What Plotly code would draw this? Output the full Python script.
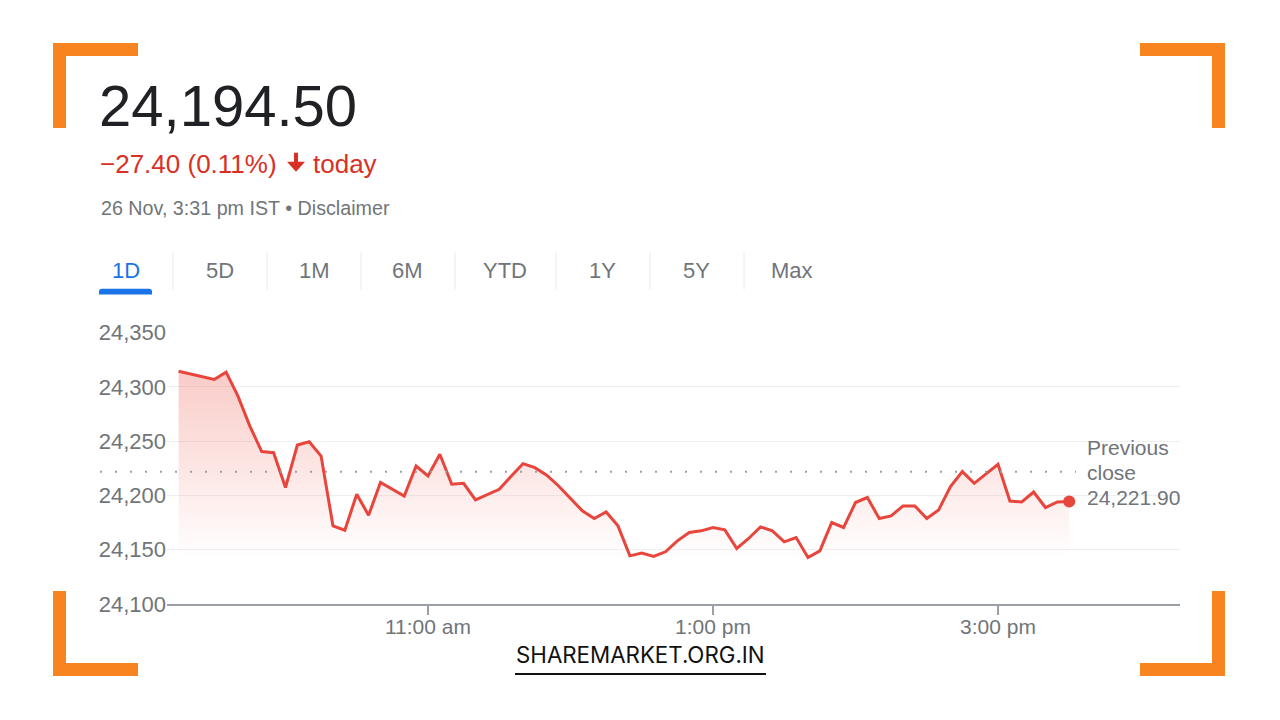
import plotly.graph_objects as go

# ---------------- data ----------------
day = "2024-11-26"
times = ["09:15", "09:30", "09:35", "09:40", "09:45", "09:50", "09:55",
         "10:00", "10:05", "10:10", "10:15", "10:20", "10:25", "10:30", "10:35", "10:40",
         "10:50", "10:55",
         "11:00", "11:05", "11:10", "11:15", "11:20", "11:25", "11:30", "11:35", "11:40", "11:45", "11:50", "11:55",
         "12:00", "12:05", "12:10", "12:15", "12:20", "12:25", "12:30", "12:35", "12:40", "12:45", "12:50", "12:55",
         "13:00", "13:05", "13:10", "13:15", "13:20", "13:25", "13:30", "13:35", "13:40", "13:45", "13:50", "13:55",
         "14:00", "14:05", "14:10", "14:15", "14:20", "14:25", "14:30", "14:35", "14:40", "14:45", "14:50", "14:55",
         "15:00", "15:05", "15:10", "15:15", "15:20", "15:25", "15:30"]
prices = [24314.4, 24306.8, 24313.5, 24291.5, 24263.9, 24240.4, 24239.4,
          24207.3, 24246.4, 24249.5, 24236.3, 24172.0, 24168.0, 24201.1, 24181.8, 24211.9,
          24199.5, 24227.1,
          24217.9, 24237.9, 24210.3, 24211.2, 24195.9, 24201.1, 24205.7, 24217.6, 24229.3, 24225.6, 24218.6, 24208.7,
          24197.1, 24185.8, 24178.8, 24184.8, 24172.0, 24144.4, 24146.9, 24143.8, 24148.1, 24158.2, 24165.9, 24167.4,
          24170.5, 24168.3, 24151.2, 24160.4, 24171.1, 24167.4, 24157.3, 24161.3, 24142.9, 24149.0, 24175.1, 24170.5,
          24193.5, 24198.1, 24178.8, 24181.2, 24190.4, 24190.4, 24178.8, 24186.7, 24208.2, 24222.0, 24211.2, 24220.0,
          24228.7, 24194.9, 24194.0, 24203.2, 24188.9, 24194.0, 24194.5]
previous_close = 24221.90
y_ticks = [24100, 24150, 24200, 24250, 24300, 24350]
x_tick_times = ["11:00", "13:00", "15:00"]
x_tick_labels = ["11:00 am", "1:00 pm", "3:00 pm"]
tabs = ["1D", "5D", "1M", "6M", "YTD", "1Y", "5Y", "Max"]
headline_price = "24,194.50"
change_value = "\u221227.40 (0.11%)"
change_word = "today"
date_text = "26 Nov, 3:31 pm IST \u2022 Disclaimer"
watermark = "SHAREMARKET.ORG.IN"

# ---------------- styling ----------------
W, H = 1280, 720
K = 0.967  # vertical compensation for the viewer
RED = "#e8453c"
TXT_RED = "#d93025"
GRAY = "#70757a"
ORANGE = "#f7841e"
FONT = "Liberation Sans, Arial, sans-serif"

def px(x):
    return x / W

def py(y):
    return 1 - (H / 2 + (y - H / 2) / K) / H

xs = [f"{day} {t}" for t in times]

fig = go.Figure()
fig.add_trace(go.Scatter(
    x=xs, y=prices, mode="lines",
    line=dict(color=RED, width=3),
    fill="tozeroy",
    fillgradient=dict(type="vertical", start=24150, stop=24320,
                      colorscale=[[0, "rgba(234,67,53,0.0)"], [1, "rgba(234,67,53,0.28)"]]),
    hoverinfo="skip", showlegend=False,
))
fig.add_trace(go.Scatter(
    x=[xs[-1]], y=[prices[-1]], mode="markers",
    marker=dict(color=RED, size=12),
    hoverinfo="skip", showlegend=False,
))

shapes = []
# previous close dotted line
shapes.append(dict(type="line", xref="paper", yref="y",
                   x0=px(100), x1=px(1076), y0=previous_close, y1=previous_close,
                   line=dict(color="#9aa0a6", width=2, dash="2px,13px")))

# orange corner brackets
def rect(x0, y0, x1, y1):
    return dict(type="rect", xref="paper", yref="paper",
                x0=px(x0), x1=px(x1), y0=py(y1), y1=py(y0),
                fillcolor=ORANGE, line=dict(width=0), layer="above")

shapes += [
    rect(53, 43, 138, 56), rect(53, 43, 66, 128),
    rect(1140, 43, 1225, 56), rect(1212, 43, 1225, 128),
    rect(53, 664, 138, 677), rect(53, 592, 66, 677),
    rect(1140, 664, 1225, 677), rect(1212, 592, 1225, 677),
]

# down arrow icon
arrow = (f"M {px(294)},{py(153)} L {px(298)},{py(153)} L {px(298)},{py(162)} L {px(305)},{py(162)} "
         f"L {px(296)},{py(172)} L {px(287)},{py(162)} L {px(294)},{py(162)} Z")
shapes.append(dict(type="path", xref="paper", yref="paper", path=arrow,
                   fillcolor=TXT_RED, line=dict(width=0)))

# tab separators
for sx in [173, 267, 361, 455, 556, 650, 744]:
    shapes.append(dict(type="line", xref="paper", yref="paper",
                       x0=px(sx), x1=px(sx), y0=py(253), y1=py(290),
                       line=dict(color="#e8eaed", width=1)))

# blue underline under 1D (rounded top)
path = (f"M {px(99)},{py(295)} L {px(99)},{py(292)} Q {px(99)},{py(289)} {px(102)},{py(289)} "
        f"L {px(149)},{py(289)} Q {px(152)},{py(289)} {px(152)},{py(292)} L {px(152)},{py(295)} Z")
shapes.append(dict(type="path", xref="paper", yref="paper", path=path,
                   fillcolor="#1a73e8", line=dict(width=0)))

# watermark underline
shapes.append(dict(type="line", xref="paper", yref="paper",
                   x0=px(515), x1=px(766), y0=py(675), y1=py(675),
                   line=dict(color="#111111", width=2)))

annotations = []

def label(text, x, y, size, color, family=FONT, xanchor="left"):
    annotations.append(dict(text=text, x=px(x), y=py(y), xref="paper", yref="paper",
                            xanchor=xanchor, yanchor="middle", showarrow=False,
                            font=dict(size=size, color=color, family=family)))

label(headline_price, 97, 106, 58, "#202124")
label(change_value, 98, 164, 26, TXT_RED)
label(change_word, 311, 164, 26, TXT_RED)
label(date_text, 99, 208, 19.7, GRAY)

tab_centers = [126, 220, 314, 407, 505, 602, 696, 792]
for t, cx in zip(tabs, tab_centers):
    label(t, cx, 271, 22, "#1a73e8" if t == "1D" else GRAY, xanchor="center")

label("Previous", 1085, 448, 21, GRAY)
label("close", 1085, 473, 21, GRAY)
label(f"{previous_close:,.2f}", 1085, 498, 21, GRAY)

label(watermark, 640, 656, 22.3, "#111111", family="Inter, sans-serif", xanchor="center")

fig.update_layout(
    width=W, height=H, autosize=False,
    margin=dict(l=0, r=0, t=0, b=0, pad=0),
    paper_bgcolor="white", plot_bgcolor="white",
    shapes=shapes, annotations=annotations,
    xaxis=dict(
        domain=[px(167), px(1180)],
        range=[f"{day} 09:10:07", f"{day} 16:16:38"],
        type="date",
        tickvals=[f"{day} {t}" for t in x_tick_times],
        ticktext=x_tick_labels,
        ticks="outside", ticklen=9, tickwidth=1.5, tickcolor="#9aa0a6",
        ticklabelstandoff=-6,
        showgrid=False, zeroline=False,
        showline=True, linecolor="#9aa0a6", linewidth=2,
        tickfont=dict(size=21, color=GRAY, family=FONT),
        fixedrange=True,
    ),
    yaxis=dict(
        domain=[py(605), py(333)],
        range=[24100, 24350],
        tickvals=y_ticks, tickformat=",d",
        showgrid=True, gridcolor="#eeeff1", gridwidth=1,
        zeroline=False, showline=False, ticks="",
        tickfont=dict(size=22, color=GRAY, family=FONT),
        fixedrange=True,
    ),
    hovermode=False,
)

fig.write_html("out.html", config={"displayModeBar": False, "responsive": False})
